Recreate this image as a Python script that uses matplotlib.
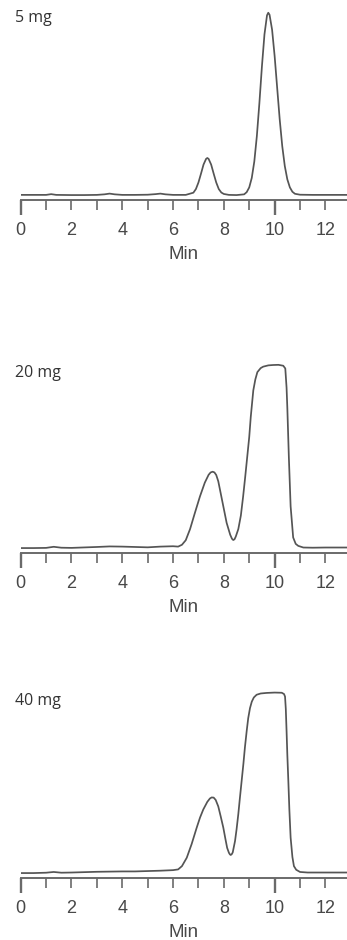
import matplotlib
matplotlib.use('Agg')
import matplotlib.pyplot as plt

# chromatogram traces (time in min, signal in % of full scale)
T_5MG = [0.0, 0.5, 1.0, 1.2, 1.4, 2.0, 2.5, 3.0, 3.3, 3.5, 3.7, 4.0, 4.5, 5.0, 5.3, 5.5,
         5.7, 6.0, 6.5, 6.8, 6.9, 7.0, 7.1, 7.2, 7.3, 7.35, 7.4, 7.5, 7.6, 7.7, 7.8, 7.9,
         8.0, 8.2, 8.5, 8.8, 8.9, 9.0, 9.1, 9.2, 9.3, 9.4, 9.5, 9.6, 9.7, 9.75, 9.8, 9.9,
         10.0, 10.1, 10.2, 10.3, 10.4, 10.5, 10.6, 10.7, 10.8, 11.0, 11.5, 12.0, 12.85]
Y_5MG = [0.3, 0.3, 0.3, 0.7, 0.3, 0.2, 0.2, 0.3, 0.6, 1.0, 0.6, 0.3, 0.3, 0.4, 0.7, 1.0,
         0.6, 0.3, 0.3, 1.5, 3.5, 7.1, 11.9, 16.9, 20.0, 20.5, 20.0, 16.9, 11.9, 7.1, 3.5, 1.6,
         0.8, 0.3, 0.2, 0.6, 1.8, 4.4, 9.6, 18.6, 32.5, 50.6, 70.7, 88.2, 98.6, 100.0, 98.9, 90.7,
         76.3, 58.9, 41.6, 27.0, 16.1, 8.8, 4.4, 2.0, 0.9, 0.4, 0.3, 0.3, 0.3]

T_20MG = [0.0, 0.5, 1.0, 1.3, 1.6, 2.0, 3.0, 3.5, 4.0, 4.5, 5.0, 5.5, 6.0, 6.2, 6.35, 6.5,
          6.67, 6.85, 7.06, 7.25, 7.4, 7.48, 7.56, 7.63, 7.7, 7.78, 7.85, 7.98, 8.11, 8.25,
          8.32, 8.37, 8.42, 8.47, 8.57, 8.67, 8.76, 8.84, 8.92, 9.0, 9.06, 9.16, 9.24, 9.32,
          9.45, 9.55, 9.75, 9.94, 10.15, 10.34, 10.42, 10.47, 10.5, 10.56, 10.63, 10.73,
          10.83, 10.93, 11.13, 11.5, 12.0, 12.85]
Y_20MG = [0.2, 0.2, 0.3, 0.9, 0.4, 0.3, 0.8, 1.1, 1.0, 0.8, 0.6, 1.0, 1.2, 1.0, 2.0, 4.5,
          10.6, 19.0, 28.5, 36.0, 40.3, 41.6, 42.0, 41.6, 40.2, 36.8, 32.0, 23.0, 14.0, 7.5,
          5.3, 4.6, 5.0, 6.5, 10.6, 18.0, 28.5, 39.0, 50.0, 61.0, 72.0, 86.5, 92.5, 96.5,
          98.7, 99.5, 100.2, 100.4, 100.5, 100.0, 98.5, 88.0, 77.0, 50.0, 23.0, 6.0,
          2.5, 1.4, 0.5, 0.4, 0.5, 0.5]

T_40MG = [0.0, 0.5, 1.0, 1.3, 1.6, 2.0, 3.0, 4.0, 4.5, 5.0, 5.5, 6.0, 6.2, 6.35, 6.54, 6.73,
          6.93, 7.06, 7.19, 7.35, 7.45, 7.52, 7.6, 7.68, 7.78, 7.88, 7.98, 8.06, 8.13, 8.2,
          8.24, 8.27, 8.31, 8.35, 8.44, 8.5, 8.57, 8.63, 8.7, 8.77, 8.83, 8.9, 8.96, 9.03, 9.1,
          9.18, 9.29, 9.45, 9.68, 10.0, 10.28, 10.37, 10.41, 10.44, 10.47, 10.5, 10.54, 10.58,
          10.63, 10.7, 10.76, 10.85, 11.0, 11.3, 12.0, 12.85]
Y_40MG = [0.2, 0.2, 0.4, 0.8, 0.4, 0.5, 0.9, 1.1, 1.1, 1.3, 1.5, 1.8, 2.2, 4.0, 8.6, 16.0,
          25.0, 30.5, 35.0, 39.2, 41.0, 41.6, 41.5, 40.2, 36.7, 31.0, 25.0, 19.0, 14.0, 11.3,
          10.4, 10.1, 10.5, 11.5, 17.7, 24.0, 32.5, 41.0, 50.5, 60.0, 69.0, 78.0, 85.0, 90.5,
          94.0, 96.3, 97.8, 98.5, 98.8, 99.0, 98.9, 98.2, 96.8, 90.0, 78.0, 65.0, 50.5, 35.0,
          19.6, 9.0, 4.0, 2.0, 0.8, 0.5, 0.5, 0.5]

LABELS = ['5 mg', '20 mg', '40 mg']
MAJOR_TICKS = [0, 2, 4, 6, 8, 10, 12]
MINOR_TICKS = [1, 3, 5, 7, 9, 11]
LONG_TICKS = [0, 10]
XMAX = 12.85

traces = [(T_5MG, Y_5MG), (T_20MG, Y_20MG), (T_40MG, Y_40MG)]

# layout in pixels of the 347x940 reference
W, H = 347, 940
AX_LEFT, AX_RIGHT, AX_H = 20.7, 347, 190
SPINE_Y = [200, 553, 878]      # pixel row of each x axis line
LABEL_Y = [18, 373, 701]       # pixel row of the dose labels

fig = plt.figure(figsize=(W / 100, H / 100), dpi=100)

for (t, y), lab, sy, ly in zip(traces, LABELS, SPINE_Y, LABEL_Y):
    ax = fig.add_axes([AX_LEFT / W, 1 - sy / H, (AX_RIGHT - AX_LEFT) / W, AX_H / H])
    ax.plot(t, y, color='#555555', lw=1.25, solid_joinstyle='round')
    ax.set_xlim(0, XMAX)
    ax.set_ylim(-2.5, 101.5)
    for s in ['top', 'right', 'left']:
        ax.spines[s].set_visible(False)
    ax.spines['bottom'].set_color('#6a6a6a')
    ax.spines['bottom'].set_linewidth(1.4)
    ax.set_yticks([])
    ax.set_xticks(MAJOR_TICKS)
    ax.set_xticks(MINOR_TICKS, minor=True)
    ax.tick_params(axis='x', which='both', direction='out', length=7, width=1.2,
                   color='#6a6a6a', labelsize=13, labelcolor='#484848', pad=9)
    for tl in ax.get_xticklabels():
        tl.set_fontfamily('Liberation Sans')
    # the 0 and 10 ticks are drawn longer in the original
    ax.vlines(LONG_TICKS, 0, -15 / AX_H, transform=ax.get_xaxis_transform(),
              color='#6a6a6a', lw=1.7, clip_on=False)
    ax.set_xlabel('Min', fontsize=13.5, color='#484848', family='Liberation Sans', labelpad=5)
    fig.text(15 / W, 1 - ly / H, lab, ha='left', va='center', fontsize=11.5,
             color='#333333', family='Open Sans')

fig.savefig('out.png', dpi=100)
